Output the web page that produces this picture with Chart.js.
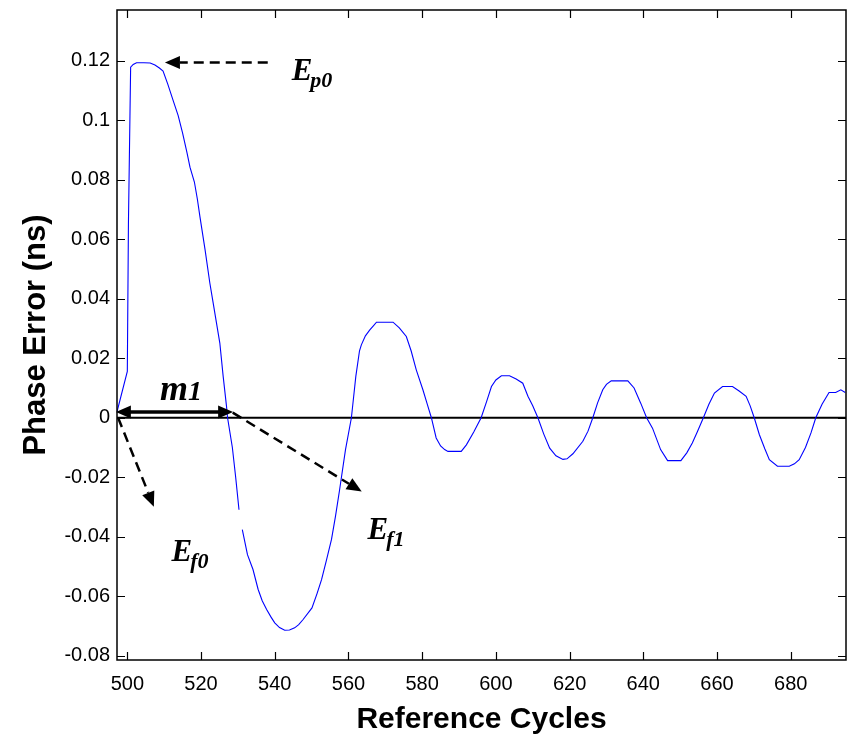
<!DOCTYPE html>
<html>
<head>
<meta charset="utf-8">
<script src="https://cdn.jsdelivr.net/npm/chart.js@4.4.1/dist/chart.umd.min.js"></script>
<style>
  html,body{margin:0;padding:0;background:#fff;}
  #wrap{width:850px;height:738px;}
</style>
</head>
<body>
<div id="wrap"><canvas id="c" width="850" height="738"></canvas></div>
<script>
// ---- data ----
const cycles = [497.2,500.0,500.3,500.9,501.6,502.5,504.5,506.2,507.5,508.7,509.7,511.0,512.4,513.8,515.0,516.2,517.0,518.2,519.0,519.7,521.1,522.4,523.3,524.2,525.1,526.0,526.9,527.2,528.5,529.4,530.3,530.7,531.2,532.6,534.1,535.5,536.6,537.8,539.0,540.0,541.3,542.7,544.0,545.4,546.5,547.7,550.1,551.5,552.7,554.0,555.4,556.5,557.6,559.2,560.8,562.0,563.0,563.5,564.6,565.8,566.7,567.6,572.1,573.8,575.7,577.0,578.4,580.2,581.4,582.5,583.8,585.0,586.1,587.0,590.6,592.0,594.0,596.0,597.5,598.8,600.0,601.5,603.7,605.5,607.3,608.7,610.0,611.4,613.0,614.6,616.3,618.2,619.3,620.9,623.6,625.0,626.3,627.6,629.0,630.0,631.3,635.8,637.5,639.3,640.9,642.5,644.7,646.6,650.2,651.8,653.3,654.7,656.3,657.8,659.3,661.5,664.2,666.0,667.9,669.0,670.1,671.5,673.0,674.2,676.4,679.6,681.0,682.3,684.0,685.5,686.8,688.5,690.4,692.2,693.6,694.8];
const phaseError = [0.002,0.0156,0.065,0.1178,0.1187,0.1193,0.1193,0.1192,0.1185,0.1175,0.1165,0.112,0.1067,0.1015,0.0956,0.089,0.0842,0.0792,0.0735,0.0676,0.0564,0.0452,0.0385,0.0318,0.0251,0.014,0.004,0.0,-0.01,-0.02,-0.0309,null,-0.0376,-0.046,-0.051,-0.0577,-0.0615,-0.0644,-0.067,-0.0689,-0.0705,-0.0714,-0.0713,-0.0706,-0.0695,-0.0678,-0.0639,-0.059,-0.0544,-0.048,-0.0409,-0.033,-0.0242,-0.0107,0.0,0.0139,0.0225,0.0245,0.0275,0.0295,0.0308,0.0321,0.0321,0.0302,0.0273,0.0225,0.0161,0.0094,0.0045,0.0,-0.0068,-0.0095,-0.0107,-0.0113,-0.0113,-0.0091,-0.0048,0.0,0.0055,0.0105,0.0127,0.0141,0.0141,0.013,0.0116,0.0072,0.004,0.0,-0.0055,-0.0102,-0.0128,-0.014,-0.0138,-0.0121,-0.0079,-0.0045,0.0,0.005,0.0094,0.0112,0.0124,0.0124,0.01,0.0049,0.0,-0.0035,-0.0107,-0.0144,-0.0144,-0.0118,-0.0085,-0.0046,0.0,0.0045,0.0083,0.0105,0.0105,0.009,0.0072,0.004,0.0,-0.0057,-0.0105,-0.0141,-0.0163,-0.0163,-0.0155,-0.0141,-0.01,-0.0051,0.0,0.0045,0.0085,0.0085,0.0094,0.0085];
const xTicks = [500,520,540,560,580,600,620,640,660,680];
const yTicks = [-0.08,-0.06,-0.04,-0.02,0,0.02,0.04,0.06,0.08,0.1,0.12];
const xRange = [497.2, 695];
const yRange = [-0.0814, 0.137];
const zeroLine = [{x: xRange[0], y: 0}, {x: xRange[1], y: 0}];

// annotation anchors in data units
const notes = {
  ep0: {from:[538.1,0.1194], to:[510.2,0.1194], label:[544.6,0.1134], main:'E', sub:'p0'},
  m1:  {from:[496.9,0.0019], to:[528.7,0.0019], label:[508.9,0.0060]},
  ef0: {from:[497.5,0.0], to:[507.2,-0.0299], label:[512.0,-0.0483], main:'E', sub:'f0'},
  ef1: {from:[528.6,0.0017], to:[563.6,-0.0248], label:[565.2,-0.0409], main:'E', sub:'f1'}
};

const SANS = '"Liberation Sans", Arial, sans-serif';
const SERIF = '"Liberation Serif", "Times New Roman", serif';

function arrowHead(ctx, x0, y0, x1, y1, len, half){
  const a = Math.atan2(y1-y0, x1-x0);
  ctx.beginPath();
  ctx.moveTo(x1, y1);
  ctx.lineTo(x1 - len*Math.cos(a) + half*Math.sin(a), y1 - len*Math.sin(a) - half*Math.cos(a));
  ctx.lineTo(x1 - len*Math.cos(a) - half*Math.sin(a), y1 - len*Math.sin(a) + half*Math.cos(a));
  ctx.closePath();
  ctx.fill();
}

const framePlugin = {
  id: 'frame',
  afterDraw(chart){
    const {ctx, chartArea: a, scales:{x, y}} = chart;
    ctx.save();
    ctx.strokeStyle = '#000';
    ctx.lineWidth = 1.5;
    ctx.strokeRect(a.left, a.top, a.right - a.left, a.bottom - a.top);
    const tl = 8;
    ctx.lineWidth = 1.2;
    ctx.beginPath();
    x.ticks.forEach(t => {
      const px = Math.round(x.getPixelForValue(t.value)) + 0.5;
      ctx.moveTo(px, a.bottom); ctx.lineTo(px, a.bottom - tl);
      ctx.moveTo(px, a.top); ctx.lineTo(px, a.top + tl);
    });
    y.ticks.forEach(t => {
      const py = Math.round(y.getPixelForValue(t.value)) + 0.5;
      ctx.moveTo(a.left, py); ctx.lineTo(a.left + tl, py);
      ctx.moveTo(a.right, py); ctx.lineTo(a.right - tl, py);
    });
    ctx.stroke();
    ctx.restore();
  }
};

const annoPlugin = {
  id: 'anno',
  afterDatasetsDraw(chart){
    const {ctx, scales:{x, y}} = chart;
    const P = p => [x.getPixelForValue(p[0]), y.getPixelForValue(p[1])];
    ctx.save();
    ctx.fillStyle = '#000';
    ctx.strokeStyle = '#000';

    // dashed arrows
    ['ep0','ef0','ef1'].forEach(k => {
      const n = notes[k];
      const [x0,y0] = P(n.from), [x1,y1] = P(n.to);
      const a = Math.atan2(y1-y0, x1-x0);
      const L = 15;
      ctx.setLineDash([10,6]);
      ctx.lineWidth = 2.5;
      ctx.beginPath();
      ctx.moveTo(x0,y0);
      ctx.lineTo(x1 - L*Math.cos(a), y1 - L*Math.sin(a));
      ctx.stroke();
      ctx.setLineDash([]);
      arrowHead(ctx, x0, y0, x1, y1, L, 6.5);
    });

    // m1 double arrow
    {
      const n = notes.m1;
      const [x0,y0] = P(n.from), [x1,y1] = P(n.to);
      ctx.lineWidth = 3.5;
      ctx.beginPath();
      ctx.moveTo(x0 + 12, y0); ctx.lineTo(x1 - 12, y1);
      ctx.stroke();
      arrowHead(ctx, x1, y1, x0, y0, 15, 6.5);
      arrowHead(ctx, x0, y0, x1, y1, 15, 6.5);
      const [lx, ly] = P(n.label);
      ctx.textBaseline = 'alphabetic';
      ctx.textAlign = 'left';
      ctx.font = 'italic bold 36px ' + SERIF;
      ctx.fillText('m', lx, ly);
      const w = ctx.measureText('m').width;
      ctx.font = 'italic bold 28px ' + SERIF;
      ctx.fillText('1', lx + w, ly);
    }

    // E labels
    ['ep0','ef0','ef1'].forEach(k => {
      const n = notes[k];
      const [lx, ly] = P(n.label);
      ctx.textAlign = 'left';
      ctx.textBaseline = 'alphabetic';
      ctx.font = 'italic bold 31px ' + SERIF;
      ctx.fillText(n.main, lx, ly);
      const w = ctx.measureText(n.main).width;
      ctx.font = 'italic bold 22px ' + SERIF;
      ctx.fillText(n.sub, lx + w - 2, ly + 7);
    });
    ctx.restore();
  }
};

const fmtY = v => {
  const r = Math.round(v * 100) / 100;
  return r === 0 ? '0' : String(r);
};

new Chart(document.getElementById('c'), {
  type: 'line',
  data: {
    datasets: [
      {
        data: cycles.map((c, i) => ({x: c, y: phaseError[i]})),
        borderColor: '#0000ff',
        borderWidth: 1.1,
        pointRadius: 0,
        tension: 0,
        spanGaps: false,
        fill: false,
        order: 1
      },
      {
        data: zeroLine,
        borderColor: '#000',
        borderWidth: 2,
        pointRadius: 0,
        fill: false,
        order: 2
      }
    ]
  },
  options: {
    responsive: false,
    animation: false,
    devicePixelRatio: 1,
    layout: {padding: {left: 0, right: 4, top: 10, bottom: 0}},
    plugins: {legend: {display: false}, tooltip: {enabled: false}},
    scales: {
      x: {
        type: 'linear',
        min: xRange[0], max: xRange[1],
        afterBuildTicks: s => { s.ticks = xTicks.map(v => ({value: v})); },
        afterFit: s => { s.height = 78; s.paddingLeft = 0; s.paddingRight = 0; },
        grid: {display: false, drawTicks: false},
        border: {display: false},
        ticks: {
          color: '#000', padding: 12,
          font: {family: SANS, size: 20},
          maxRotation: 0, autoSkip: false,
          callback: v => String(v)
        },
        title: {
          display: true, text: 'Reference Cycles', color: '#000',
          font: {family: SANS, size: 30, weight: 'bold', lineHeight: 1.2},
          padding: {top: 0, bottom: 0}
        }
      },
      y: {
        type: 'linear',
        min: yRange[0], max: yRange[1],
        afterBuildTicks: s => { s.ticks = yTicks.map(v => ({value: v})); },
        afterFit: s => { s.width = 117; s.paddingTop = 0; s.paddingBottom = 0; },
        grid: {display: false, drawTicks: false},
        border: {display: false},
        ticks: {
          color: '#000', padding: 7,
          font: {family: SANS, size: 20},
          autoSkip: false,
          callback: v => fmtY(v)
        },
        title: {
          display: true, text: 'Phase Error (ns)', color: '#000',
          font: {family: SANS, size: 31, weight: 'bold', lineHeight: 1.2},
          padding: {top: 18, bottom: 0}
        }
      }
    }
  },
  plugins: [annoPlugin, framePlugin]
});
</script>
</body>
</html>
